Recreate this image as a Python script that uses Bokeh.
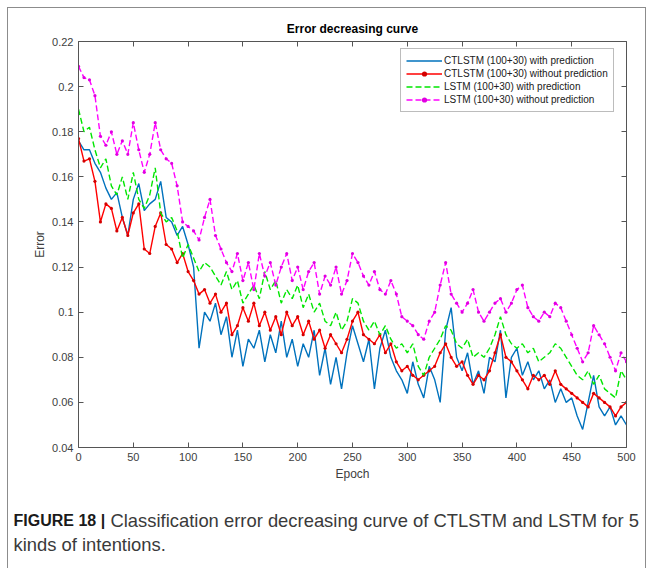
from bokeh.plotting import figure
from bokeh.models import Range1d, LinearAxis, Label, Legend, LegendItem, FixedTicker
from bokeh.embed import file_html
from bokeh.resources import INLINE

# ---------------- data ----------------
epochs = list(range(0, 501, 5))

ctlstm_pred = [
    0.176, 0.172, 0.172, 0.166, 0.162, 0.155, 0.150, 0.153, 0.142, 0.134,
    0.150, 0.157, 0.145, 0.148, 0.150, 0.158, 0.142, 0.140, 0.134, 0.138,
    0.130, 0.120, 0.084, 0.100, 0.096, 0.104, 0.090, 0.098, 0.080, 0.092,
    0.076, 0.088, 0.084, 0.092, 0.078, 0.090, 0.082, 0.096, 0.080, 0.088,
    0.076, 0.086, 0.080, 0.092, 0.072, 0.084, 0.068, 0.080, 0.066, 0.082,
    0.094, 0.086, 0.078, 0.088, 0.066, 0.084, 0.092, 0.080, 0.074, 0.070,
    0.064, 0.078, 0.068, 0.062, 0.076, 0.070, 0.060, 0.092, 0.102, 0.080,
    0.074, 0.082, 0.068, 0.074, 0.064, 0.080, 0.078, 0.092, 0.062, 0.080,
    0.084, 0.072, 0.078, 0.070, 0.074, 0.066, 0.070, 0.060, 0.066, 0.060,
    0.062, 0.054, 0.048, 0.060, 0.072, 0.058, 0.054, 0.058, 0.050, 0.054,
    0.050,
]

ctlstm_nopred = [
    0.177, 0.167, 0.168, 0.158, 0.140, 0.148, 0.146, 0.136, 0.142, 0.134,
    0.144, 0.148, 0.128, 0.126, 0.138, 0.144, 0.130, 0.128, 0.122, 0.126,
    0.118, 0.114, 0.108, 0.110, 0.104, 0.108, 0.100, 0.104, 0.090, 0.094,
    0.102, 0.096, 0.104, 0.094, 0.100, 0.092, 0.098, 0.090, 0.100, 0.094,
    0.098, 0.090, 0.096, 0.088, 0.092, 0.084, 0.090, 0.086, 0.082, 0.088,
    0.096, 0.100, 0.090, 0.088, 0.086, 0.090, 0.082, 0.086, 0.078, 0.074,
    0.076, 0.072, 0.070, 0.072, 0.074, 0.076, 0.082, 0.086, 0.080, 0.076,
    0.078, 0.072, 0.068, 0.072, 0.070, 0.074, 0.082, 0.090, 0.080, 0.078,
    0.074, 0.070, 0.066, 0.072, 0.070, 0.072, 0.068, 0.074, 0.068, 0.066,
    0.064, 0.062, 0.060, 0.058, 0.064, 0.062, 0.060, 0.058, 0.054, 0.058,
    0.060,
]

lstm_pred = [
    0.190, 0.180, 0.182, 0.172, 0.164, 0.168, 0.156, 0.152, 0.160, 0.150,
    0.162, 0.150, 0.146, 0.152, 0.164, 0.144, 0.140, 0.142, 0.136, 0.124,
    0.130, 0.124, 0.118, 0.122, 0.120, 0.116, 0.112, 0.118, 0.110, 0.114,
    0.104, 0.108, 0.112, 0.106, 0.118, 0.110, 0.114, 0.104, 0.110, 0.106,
    0.112, 0.102, 0.108, 0.100, 0.104, 0.096, 0.094, 0.100, 0.092, 0.096,
    0.106, 0.104, 0.096, 0.092, 0.096, 0.090, 0.094, 0.088, 0.084, 0.086,
    0.082, 0.086, 0.076, 0.072, 0.080, 0.084, 0.088, 0.094, 0.092, 0.086,
    0.084, 0.088, 0.080, 0.082, 0.080, 0.084, 0.090, 0.098, 0.090, 0.086,
    0.084, 0.086, 0.082, 0.084, 0.078, 0.080, 0.082, 0.086, 0.084, 0.080,
    0.076, 0.072, 0.070, 0.074, 0.068, 0.072, 0.066, 0.064, 0.062, 0.074,
    0.070,
]

lstm_nopred = [
    0.209, 0.204, 0.203, 0.196, 0.178, 0.174, 0.180, 0.170, 0.176, 0.170,
    0.184, 0.172, 0.162, 0.170, 0.184, 0.172, 0.168, 0.166, 0.156, 0.140,
    0.138, 0.136, 0.132, 0.142, 0.150, 0.134, 0.128, 0.122, 0.118, 0.126,
    0.114, 0.122, 0.110, 0.126, 0.116, 0.122, 0.112, 0.120, 0.126, 0.114,
    0.120, 0.110, 0.118, 0.122, 0.108, 0.116, 0.112, 0.120, 0.108, 0.114,
    0.126, 0.122, 0.116, 0.112, 0.118, 0.110, 0.108, 0.114, 0.108, 0.098,
    0.096, 0.094, 0.090, 0.088, 0.096, 0.100, 0.112, 0.122, 0.108, 0.104,
    0.100, 0.104, 0.110, 0.100, 0.096, 0.100, 0.104, 0.106, 0.100, 0.104,
    0.110, 0.112, 0.102, 0.098, 0.096, 0.100, 0.098, 0.104, 0.102, 0.096,
    0.090, 0.084, 0.078, 0.082, 0.094, 0.090, 0.086, 0.080, 0.074, 0.082,
    0.078,
]

series_labels = [
    "CTLSTM (100+30) with prediction",
    "CTLSTM (100+30) without prediction",
    "LSTM (100+30) with prediction",
    "LSTM (100+30) without prediction",
]

x_ticks = [0, 50, 100, 150, 200, 250, 300, 350, 400, 450, 500]
y_ticks = [0.04, 0.06, 0.08, 0.1, 0.12, 0.14, 0.16, 0.18, 0.2, 0.22]
y_tick_labels = ["0.04", "0.06", "0.08", "0.1", "0.12", "0.14", "0.16", "0.18", "0.2", "0.22"]

title_text = "Error decreasing curve"
x_label = "Epoch"
y_label = "Error"
caption_bold = "FIGURE 18 |"
caption_line1 = "Classification error decreasing curve of CTLSTM and LSTM for 5"
caption_line2 = "kinds of intentions."

# ---------------- styling ----------------
FONT = "Liberation Sans"
AX = "#555555"
TXT = "#404040"
BLUE = "#0072BD"
RED = "#FF0000"
GREEN = "#00E600"
MAGENTA = "#FF00FF"
BORDER = "1px solid #8c8c8c"
W = 639

p = figure(width=W, height=482, output_backend="svg", toolbar_location=None,
           x_range=Range1d(0, 500), y_range=Range1d(0.04, 0.22),
           min_border_left=70, min_border_right=21, min_border_top=33,
           min_border_bottom=43, title=title_text)
p.styles = {"margin-left": "7px", "margin-top": "7px",
            "border-left": BORDER, "border-top": BORDER, "border-right": BORDER}
p.background_fill_color = "white"
p.border_fill_color = "white"
p.outline_line_color = None
p.grid.visible = False

p.title.text_font = FONT
p.title.text_font_size = "12px"
p.title.text_font_style = "bold"
p.title.text_color = "black"
p.title.align = "center"
p.title.standoff = 11


def style_axis(ax, show_labels):
    ax.major_tick_in = 5
    ax.major_tick_out = 0
    ax.minor_tick_line_color = None
    ax.axis_line_color = AX
    ax.major_tick_line_color = AX
    ax.axis_line_width = 1
    ax.major_label_text_font = FONT
    if show_labels:
        ax.major_label_text_color = TXT
        ax.major_label_text_font_size = "11px"
        ax.major_label_standoff = 5
        ax.axis_label_text_font = FONT
        ax.axis_label_text_font_size = "12px"
        ax.axis_label_text_font_style = "normal"
        ax.axis_label_text_color = TXT
    else:
        ax.major_label_text_color = None
        ax.major_label_text_font_size = "1px"
        ax.major_label_standoff = 0


xa = p.xaxis[0]
xa.ticker = FixedTicker(ticks=x_ticks)
xa.axis_label = x_label
style_axis(xa, True)
xa.axis_label_standoff = 3

ya = p.yaxis[0]
ya.ticker = FixedTicker(ticks=y_ticks)
ya.major_label_overrides = {t: s for t, s in zip(y_ticks, y_tick_labels)}
ya.axis_label = y_label
style_axis(ya, True)
ya.axis_label_standoff = 2

top = LinearAxis(ticker=FixedTicker(ticks=x_ticks))
style_axis(top, False)
p.add_layout(top, "above")
right = LinearAxis(ticker=FixedTicker(ticks=y_ticks))
style_axis(right, False)
p.add_layout(right, "right")

# ---------------- series ----------------
r1 = p.line(epochs, ctlstm_pred, line_color=BLUE, line_width=1.4)
r2 = p.line(epochs, ctlstm_nopred, line_color=RED, line_width=1.4)
r2m = p.scatter(epochs, ctlstm_nopred, marker="circle", size=3.2,
                fill_color="#D40000", line_color=None)
r3 = p.line(epochs, lstm_pred, line_color=GREEN, line_width=1.4, line_dash="6 3")
r4 = p.line(epochs, lstm_nopred, line_color=MAGENTA, line_width=1.4, line_dash="6 3")
r4m = p.scatter(epochs, lstm_nopred, marker="circle", size=3.2,
                fill_color="#E000E0", line_color=None)

legend = Legend(items=[
    LegendItem(label=series_labels[0], renderers=[r1]),
    LegendItem(label=series_labels[1], renderers=[r2, r2m]),
    LegendItem(label=series_labels[2], renderers=[r3]),
    LegendItem(label=series_labels[3], renderers=[r4, r4m]),
], location=(322, 335))
legend.label_text_font = FONT
legend.label_text_font_size = "10px"
legend.label_text_color = "#202020"
legend.glyph_width = 36
legend.glyph_height = 13
legend.label_height = 13
legend.label_standoff = 2
legend.spacing = 0
legend.padding = 5
legend.margin = 0
legend.border_line_color = "#7a7a7a"
legend.border_line_width = 1
legend.background_fill_color = "white"
legend.background_fill_alpha = 1
p.add_layout(legend)

# ---------------- caption (separate root below the chart) ----------------
CH = 79
cap = figure(width=W, height=CH, output_backend="svg", toolbar_location=None,
             x_range=Range1d(0, W), y_range=Range1d(0, CH),
             x_axis_location=None, y_axis_location=None,
             min_border=0, min_border_left=0, min_border_right=0,
             min_border_top=0, min_border_bottom=0)
cap.styles = {"margin-left": "7px", "border-left": BORDER, "border-right": BORDER}
cap.outline_line_color = None
cap.grid.visible = False
cap.background_fill_color = "white"
cap.border_fill_color = "white"

cap_kw = dict(x_units="screen", y_units="screen", text_font=FONT,
              text_baseline="middle", text_align="left")
cap.add_layout(Label(x=5, y=48, text=caption_bold, text_font_style="bold",
                     text_font_size="16px", text_color="#1a1a1a", **cap_kw))
cap.add_layout(Label(x=102, y=48, text=caption_line1, text_font_size="18.4px",
                     text_color="#3a3a3a", **cap_kw))
cap.add_layout(Label(x=5, y=24, text=caption_line2, text_font_size="18.4px",
                     text_color="#3a3a3a", **cap_kw))

open("out.html", "w").write(file_html([p, cap], INLINE))
